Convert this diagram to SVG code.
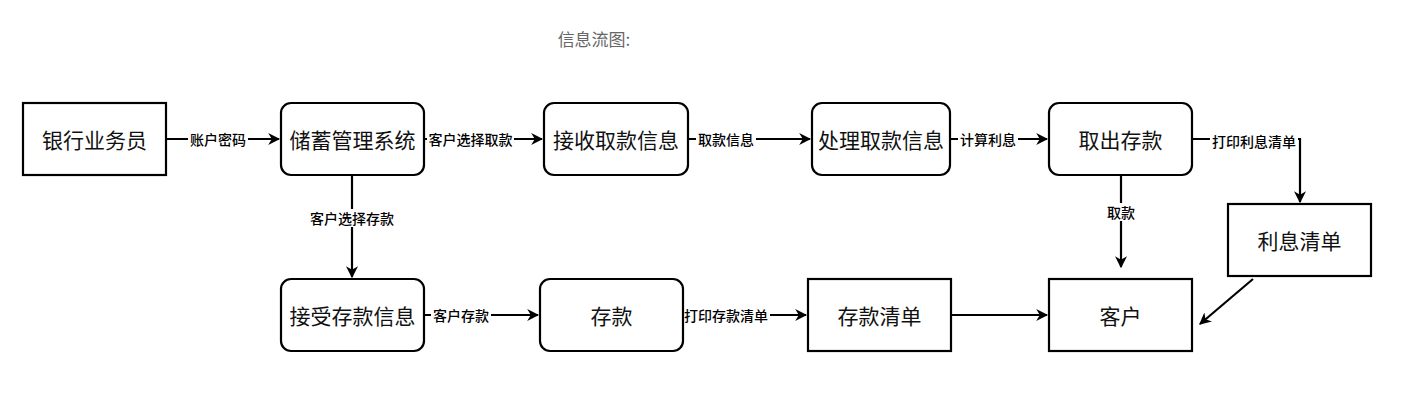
<svg xmlns="http://www.w3.org/2000/svg" width="1412" height="418" viewBox="0 0 1412 418">
<style>
.box{fill:#fff;stroke:#000;stroke-width:2.2}
.t{font-family:"Noto Sans CJK SC","Liberation Serif",sans-serif;font-size:21px;fill:#111;text-anchor:middle;dominant-baseline:central}
.e{fill:none;stroke:#000;stroke-width:2.2}
.lb{font-family:"Noto Sans CJK SC","Liberation Sans",sans-serif;font-size:14px;font-weight:500;fill:#000;text-anchor:middle;dominant-baseline:central}
.lbg{fill:#fff}
.title{font-family:"Noto Sans CJK SC","Liberation Serif",sans-serif;font-size:17px;fill:#666;text-anchor:middle;dominant-baseline:central}
</style>
<defs>
<marker id="a" viewBox="0 0 10 10" refX="9" refY="5" markerWidth="12" markerHeight="12" markerUnits="userSpaceOnUse" orient="auto"><path d="M0,0 L10,5 L0,10 L3,5 Z" fill="#000"/></marker>
</defs>
<rect width="1412" height="418" fill="#fff"/>
<text class="title" x="594" y="38">信息流图:</text>

<g id="edges">
<path class="e" d="M166,139 H279" marker-end="url(#a)"/>
<path class="e" d="M424,139 H542" marker-end="url(#a)"/>
<path class="e" d="M688,139 H810" marker-end="url(#a)"/>
<path class="e" d="M950,139 H1047" marker-end="url(#a)"/>
<path class="e" d="M1192,139 H1300 V202" marker-end="url(#a)"/>
<path class="e" d="M1121,175 V267" marker-end="url(#a)"/>
<path class="e" d="M352,175 V277" marker-end="url(#a)"/>
<path class="e" d="M424,315 H538" marker-end="url(#a)"/>
<path class="e" d="M683,315 H806" marker-end="url(#a)"/>
<path class="e" d="M951,315 H1047" marker-end="url(#a)"/>
<path class="e" d="M1253,279 L1200,324" marker-end="url(#a)"/>
<g id="edge-labels">
<rect class="lbg" x="188" y="130" width="60" height="18"/><text class="lb" x="218" y="139">账户密码</text>
<rect class="lbg" x="427" y="130" width="87" height="18"/><text class="lb" x="470.5" y="139">客户选择取款</text>
<rect class="lbg" x="696" y="130" width="60" height="18"/><text class="lb" x="726" y="139">取款信息</text>
<rect class="lbg" x="958" y="130" width="60" height="18"/><text class="lb" x="988" y="139">计算利息</text>
<rect class="lbg" x="1210" y="132" width="88" height="18"/><text class="lb" x="1254" y="141">打印利息清单</text>
<rect class="lbg" x="1106" y="203" width="30" height="18"/><text class="lb" x="1121" y="212">取款</text>
<rect class="lbg" x="308" y="209" width="88" height="18"/><text class="lb" x="352" y="218">客户选择存款</text>
<rect class="lbg" x="431" y="306" width="60" height="18"/><text class="lb" x="461" y="315">客户存款</text>
<rect class="lbg" x="682" y="306" width="88" height="18"/><text class="lb" x="726" y="315">打印存款清单</text>
</g>
</g>

<g id="n1"><rect class="box" x="23" y="103" width="143" height="72"/><text class="t" x="94.5" y="139">银行业务员</text></g>
<g id="n2"><rect class="box" x="281" y="103" width="143" height="72" rx="10"/><text class="t" x="352.5" y="139">储蓄管理系统</text></g>
<g id="n3"><rect class="box" x="544" y="103" width="144" height="72" rx="10"/><text class="t" x="616" y="139">接收取款信息</text></g>
<g id="n4"><rect class="box" x="812" y="103" width="138" height="72" rx="10"/><text class="t" x="881" y="139">处理取款信息</text></g>
<g id="n5"><rect class="box" x="1049" y="103" width="143" height="72" rx="10"/><text class="t" x="1120.5" y="139">取出存款</text></g>
<g id="n6"><rect class="box" x="1228" y="204" width="143" height="72"/><text class="t" x="1299.5" y="240">利息清单</text></g>
<g id="n7"><rect class="box" x="1049" y="279" width="143" height="72"/><text class="t" x="1120.5" y="315">客户</text></g>
<g id="n8"><rect class="box" x="808" y="279" width="143" height="72"/><text class="t" x="879.5" y="315">存款清单</text></g>
<g id="n9"><rect class="box" x="540" y="279" width="143" height="72" rx="10"/><text class="t" x="611.5" y="315">存款</text></g>
<g id="n10"><rect class="box" x="281" y="279" width="143" height="72" rx="10"/><text class="t" x="352.5" y="315">接受存款信息</text></g>
</svg>
